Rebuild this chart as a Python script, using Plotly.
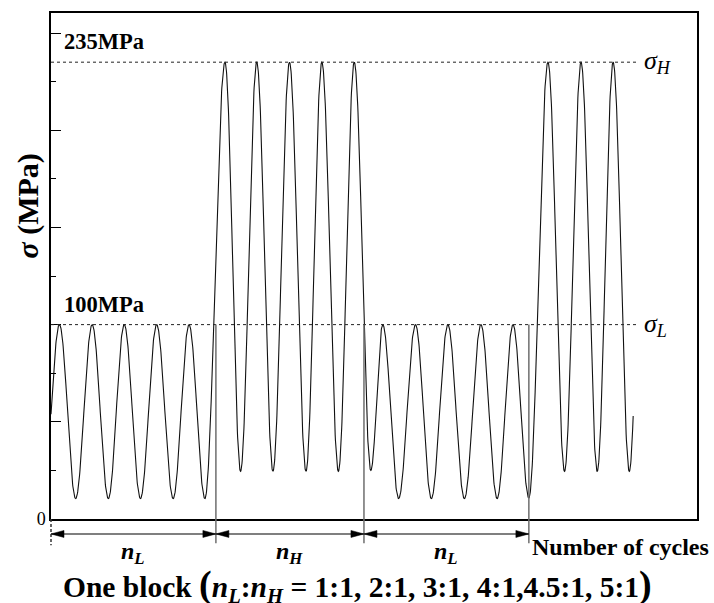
import numpy as np
import plotly.graph_objects as go

# Stress turning points of the block loading history: position in cycles, stress in MPa
ext_cycle = [-0.25, 0.26, 0.76, 1.27, 1.77, 2.26, 2.76, 3.26, 3.77, 4.26, 4.75,
             5.37, 5.85, 6.35, 6.85, 7.36, 7.87, 8.36, 8.87, 9.36, 9.87,
             10.24, 10.73, 11.25, 11.74, 12.25, 12.76, 13.27, 13.77, 14.26, 14.75,
             15.34, 15.85, 16.36, 16.86, 17.35, 17.85, 18.35]
ext_stress = [10.5, 100, 10.5, 100, 10.5, 100, 10.5, 100, 10.5, 100, 10.5,
              235, 24.5, 235, 24.5, 235, 24.5, 235, 24.5, 235, 25,
              100, 10.5, 100, 10.5, 100, 10.5, 100, 10.5, 100, 10.8,
              235, 24.5, 235, 24.5, 235, 24.5, 235]
record_start, record_end = 0.0, 17.97

# Block boundaries (cycles) and the name of each block
block_edges = [0.0, 5.09, 9.66, 14.75]
block_names = ["n<sub>L</sub>", "n<sub>H</sub>", "n<sub>L</sub>"]

sigma_H, sigma_L = 235, 100
level_labels = ["235MPa", "100MPa"]
ytick_vals = [0, 50, 100, 150, 200, 250]
ytick_minor = [25, 75, 125, 175, 225]

X_MAX, Y_MAX = 19.94, 260.3
SERIF = "Liberation Serif, Times New Roman, serif"


def y_paper(v):
    return v / Y_MAX


def history(c):
    """Stress at cycle position c: half-cosine between neighbouring turning points."""
    i = np.clip(np.searchsorted(ext_cycle, c) - 1, 0, len(ext_cycle) - 2)
    c0, c1 = ext_cycle[i], ext_cycle[i + 1]
    s0, s1 = ext_stress[i], ext_stress[i + 1]
    t = (c - c0) / (c1 - c0)
    return s0 + (s1 - s0) * (1 - np.cos(np.pi * t)) / 2


xs = np.linspace(record_start, record_end, 2400)
ys = np.array([history(c) for c in xs])

fig = go.Figure()
fig.add_trace(go.Scatter(x=xs, y=ys, mode="lines",
                         line=dict(color="#111111", width=1.1),
                         hoverinfo="skip", showlegend=False))

shapes = []
annotations = []

# dashed stress levels
for lvl in (sigma_H, sigma_L):
    shapes.append(dict(type="line", xref="x", yref="y", x0=0, x1=18.12, y0=lvl, y1=lvl,
                       line=dict(color="#222222", width=1, dash="3px,3px")))

# block boundary lines, running below the axis
arrow_y = y_paper(-7.7)
for edge in block_edges[1:]:
    shapes.append(dict(type="line", xref="x", yref="paper", x0=edge, x1=edge,
                       y0=y_paper(sigma_L), y1=y_paper(-12.5),
                       line=dict(color="#6e6e6e", width=1.5)))
shapes.append(dict(type="line", xref="paper", yref="paper", x0=0, x1=0,
                   y0=0, y1=y_paper(-13.5),
                   line=dict(color="#333333", width=1.5, dash="3px,2px")))

# dimension arrows for each block
for a, b, name in zip(block_edges[:-1], block_edges[1:], block_names):
    shapes.append(dict(type="line", xref="x", yref="paper", x0=a, x1=b,
                       y0=arrow_y, y1=arrow_y, line=dict(color="#555555", width=1.5)))
    shapes.append(dict(type="path", xref="x", yref="paper", xsizemode="pixel",
                       ysizemode="pixel", xanchor=a, yanchor=arrow_y,
                       path="M0,0 L13,3.5 L13,-3.5 Z", fillcolor="black",
                       line=dict(color="black", width=0.5)))
    shapes.append(dict(type="path", xref="x", yref="paper", xsizemode="pixel",
                       ysizemode="pixel", xanchor=b, yanchor=arrow_y,
                       path="M0,0 L-13,3.5 L-13,-3.5 Z", fillcolor="black",
                       line=dict(color="black", width=0.5)))
    annotations.append(dict(xref="x", yref="paper", x=(a + b) / 2, y=y_paper(-17.5),
                            text="<b><i>" + name + "</i></b>", showarrow=False,
                            xanchor="center", yanchor="middle",
                            font=dict(family=SERIF, size=24, color="black")))

# stress level labels
for lvl, lab in zip((sigma_H, sigma_L), level_labels):
    annotations.append(dict(xref="paper", yref="y", x=0, y=lvl, xshift=11, yshift=6,
                            text="<b>" + lab + "</b>", showarrow=False,
                            xanchor="left", yanchor="bottom",
                            font=dict(family=SERIF, size=22.5, color="black")))
for lvl, sub in ((sigma_H, "H"), (sigma_L, "L")):
    annotations.append(dict(xref="x", yref="y", x=18.24, y=lvl,
                            text="<i>σ<sub>" + sub + "</sub></i>", showarrow=False,
                            xanchor="left", yanchor="middle",
                            font=dict(family=SERIF, size=26, color="black")))

annotations.append(dict(xref="x", yref="paper", x=block_edges[-1], y=y_paper(-14.6),
                        xshift=1, text="<b>Number of cycles</b>", showarrow=False,
                        xanchor="left", yanchor="middle",
                        font=dict(family=SERIF, size=24, color="black")))

ratios = "1:1, 2:1, 3:1, 4:1,4.5:1, 5:1"
caption = ("<b>One block <span style='font-size:38px'>(</span><i>n<sub>L</sub></i>:"
           "<i>n<sub>H</sub></i> = " + ratios + "<span style='font-size:38px'>)</span></b>")
annotations.append(dict(xref="paper", yref="paper", x=0.4737, y=-0.131,
                        text=caption, showarrow=False, xanchor="center", yanchor="middle",
                        font=dict(family=SERIF, size=29.5, color="black")))

annotations.append(dict(xref="paper", yref="paper", x=-0.036, y=0.619,
                        text="<b><i>σ</i> (MPa)</b>", textangle=-90, showarrow=False,
                        xanchor="center", yanchor="middle",
                        font=dict(family=SERIF, size=30, color="black")))

fig.update_layout(
    width=714, height=603,
    margin=dict(l=51, r=17, t=13, b=84),
    paper_bgcolor="white", plot_bgcolor="white",
    shapes=shapes, annotations=annotations,
    xaxis=dict(range=[0, X_MAX], showline=True, mirror=True, linecolor="black",
               linewidth=1.5, showgrid=False, zeroline=False, showticklabels=False,
               ticks=""),
    yaxis=dict(range=[0, Y_MAX], showline=True, mirror=True, linecolor="black",
               linewidth=1.5, showgrid=False, zeroline=False,
               tickvals=ytick_vals, ticktext=["0"] + [""] * (len(ytick_vals) - 1),
               ticks="inside", ticklen=10, tickwidth=1, tickcolor="black",
               tickfont=dict(family=SERIF, size=18, color="black"),
               minor=dict(tickvals=ytick_minor, ticks="inside", ticklen=5,
                          tickwidth=1, tickcolor="black")),
)

fig.write_html("out.html")
